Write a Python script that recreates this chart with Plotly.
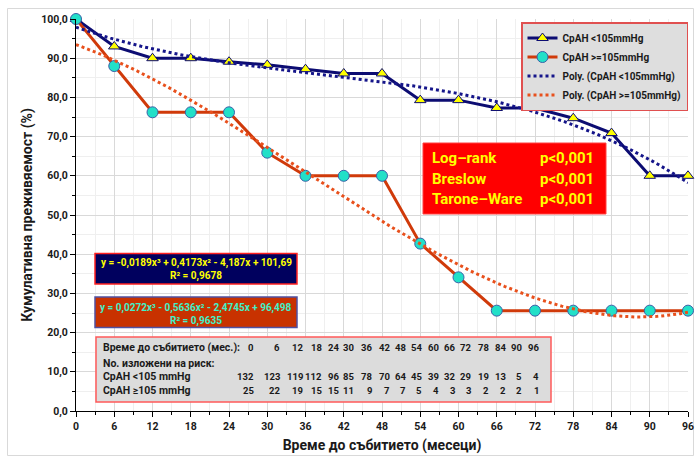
import numpy as np
import plotly.graph_objects as go

# ---------------- data ----------------
months = [0, 6, 12, 18, 24, 30, 36, 42, 48, 54, 60, 66, 72, 78, 84, 90, 96]
surv_low = [100, 93, 90, 90, 89.1, 88.3, 87.2, 86.1, 86.1, 79.3, 79.3, 77.3, 77.3, 74.7, 70.9, 60, 60]
surv_high = [100, 88, 76.2, 76.2, 76.2, 65.9, 60, 60, 60, 42.7, 34.1, 25.6, 25.6, 25.6, 25.6, 25.6, 25.6]
# Excel polynomial trendline coefficients (x = point index 1..17)
poly_low = [-0.0189, 0.4173, -4.187, 101.69]
poly_high = [0.0272, -0.5636, -2.4745, 96.498]
r2_low = "0,9678"
r2_high = "0,9635"
risk_low = [132, 123, 119, 112, 96, 85, 78, 70, 64, 45, 39, 32, 29, 19, 13, 5, 4]
risk_high = [25, 22, 19, 15, 15, 11, 9, 7, 7, 5, 4, 3, 3, 2, 2, 2, 1]
names = ["СрАН <105mmHg", "СрАН >=105mmHg", "Poly. (СрАН <105mmHg)", "Poly. (СрАН >=105mmHg)"]
tests = ["Log–rank", "Breslow", "Tarone–Ware"]
pvals = ["p<0,001", "p<0,001", "p<0,001"]

# ---------------- layout helpers ----------------
W, H = 696, 461
PL, PR, PT, PB = 76, 688, 19, 411          # plot area in page pixels
ML, MR, MT, MB = PL, W - PR, PT, H - PB
PW, PH = PR - PL, PB - PT

def px(x):
    return (x - PL) / PW

def py(y):
    return 1 - (y - PT) / PH

FONT = "Roboto"
NAVY = "#0c0c72"
ORANGE = "#d03a0a"

idx = np.linspace(1, len(months), 161)
trend_x = (idx - 1) * (months[1] - months[0])
trend_low = np.polyval(poly_low, idx)
trend_high = np.polyval(poly_high, idx)

fig = go.Figure()
fig.add_trace(go.Scatter(
    x=months, y=surv_low, mode="lines+markers", name=names[0], cliponaxis=False,
    line=dict(color=NAVY, width=3),
    marker=dict(symbol="triangle-up", size=10, color="#ffff00", line=dict(color=NAVY, width=1))))
fig.add_trace(go.Scatter(
    x=months, y=surv_high, mode="lines+markers", name=names[1], cliponaxis=False,
    line=dict(color=ORANGE, width=3),
    marker=dict(symbol="circle", size=11, color="#22e0c8", line=dict(color="#3a5fa8", width=1))))
fig.add_trace(go.Scatter(
    x=trend_x, y=trend_low, mode="lines", name=names[2], cliponaxis=False,
    line=dict(color="#15158a", width=3, dash="dot")))
fig.add_trace(go.Scatter(
    x=trend_x, y=trend_high, mode="lines", name=names[3], cliponaxis=False,
    line=dict(color="#e8501c", width=3, dash="dot")))

shapes = []
annotations = []

# outer chart border
shapes.append(dict(type="rect", xref="paper", yref="paper", x0=px(7.5), x1=px(693.5), y0=py(455.5), y1=py(8.5),
                   line=dict(color="#d9d9d9", width=1), fillcolor="rgba(0,0,0,0)", layer="below"))

# red statistics box
shapes.append(dict(type="rect", xref="paper", yref="paper", x0=px(423), x1=px(606), y0=py(214), y1=py(143),
                   line=dict(color="#ff4040", width=1), fillcolor="#ff0000"))
for i, (t, p) in enumerate(zip(tests, pvals)):
    yy = [158, 178.5, 199][i]
    annotations.append(dict(xref="paper", yref="paper", x=px(430), y=py(yy), xanchor="left", yanchor="middle",
                            text="<b>%s</b>" % t, showarrow=False,
                            font=dict(family=FONT, size=15, color="#ffff00")))
    annotations.append(dict(xref="paper", yref="paper", x=px(538), y=py(yy), xanchor="left", yanchor="middle",
                            text="<b>%s</b>" % p, showarrow=False,
                            font=dict(family=FONT, size=15, color="#ffff00")))

# equation boxes
def eq_text(c):
    def f(v):
        return ("%g" % abs(v)).replace(".", ",")
    s = "y = %s%sx³ %s %sx² %s %sx %s %s" % (
        "-" if c[0] < 0 else "", f(c[0]),
        "-" if c[1] < 0 else "+", f(c[1]),
        "-" if c[2] < 0 else "+", f(c[2]),
        "-" if c[3] < 0 else "+", f(c[3]))
    return s

shapes.append(dict(type="rect", xref="paper", yref="paper", x0=px(95), x1=px(297), y0=py(284), y1=py(253.5),
                   line=dict(color="#ff2020", width=1.5), fillcolor="#00005e"))
shapes.append(dict(type="rect", xref="paper", yref="paper", x0=px(95), x1=px(297), y0=py(327.5), y1=py(297),
                   line=dict(color="#5050a0", width=1.5), fillcolor="#c83200"))
EQF = 10
annotations.append(dict(xref="paper", yref="paper", x=px(196), y=py(263), xanchor="center", yanchor="middle",
                        text="<b>%s</b>" % eq_text(poly_low), showarrow=False,
                        font=dict(family=FONT, size=EQF, color="#ffff00")))
annotations.append(dict(xref="paper", yref="paper", x=px(196), y=py(276), xanchor="center", yanchor="middle",
                        text="<b>R² = %s</b>" % r2_low, showarrow=False,
                        font=dict(family=FONT, size=EQF, color="#ffff00")))
annotations.append(dict(xref="paper", yref="paper", x=px(196), y=py(307.5), xanchor="center", yanchor="middle",
                        text="<b>%s</b>" % eq_text(poly_high), showarrow=False,
                        font=dict(family=FONT, size=EQF, color="#40f0c8")))
annotations.append(dict(xref="paper", yref="paper", x=px(196), y=py(320.5), xanchor="center", yanchor="middle",
                        text="<b>R² = %s</b>" % r2_high, showarrow=False,
                        font=dict(family=FONT, size=EQF, color="#40f0c8")))

# number-at-risk table
shapes.append(dict(type="rect", xref="paper", yref="paper", x0=px(96), x1=px(551), y0=py(402), y1=py(337),
                   line=dict(color="#ff5a5a", width=1.5), fillcolor="#dcdcdc"))
row_y = [347.5, 363, 376.5, 390]
row_labels = ["Време до събитието (мес.):", "No. изложени на риск:", "СрАН <105 mmHg", "СрАН ≥105 mmHg"]
for lab, yy in zip(row_labels, row_y):
    annotations.append(dict(xref="paper", yref="paper", x=px(101), y=py(yy), xanchor="left", yanchor="middle",
                            text="<b>%s</b>" % lab, showarrow=False,
                            font=dict(family=FONT, size=10.5, color="#1a1a1a")))
col_right = [256, 282, 305, 324, 341, 356, 373.5, 392, 408, 423.5, 441, 457, 472.5, 491, 507.5, 524, 541]
for cx, m, a, b in zip(col_right, months, risk_low, risk_high):
    for val, yy in ((m, row_y[0]), (a, row_y[2]), (b, row_y[3])):
        annotations.append(dict(xref="paper", yref="paper", x=px(cx), y=py(yy), xanchor="right", yanchor="middle",
                                text="<b>%d</b>" % val, showarrow=False,
                                font=dict(family=FONT, size=9.5, color="#1a1a1a")))

fig.update_layout(
    width=W, height=H,
    margin=dict(l=ML, r=MR, t=MT, b=MB, autoexpand=False),
    paper_bgcolor="white", plot_bgcolor="white",
    separators=",.",
    font=dict(family=FONT, color="#1a1a1a"),
    shapes=shapes, annotations=annotations,
    showlegend=True,
    legend=dict(x=px(688), y=py(22), xanchor="right", yanchor="top",
                bgcolor="#dedede", bordercolor="#e05050", borderwidth=1.5,
                font=dict(family=FONT, size=10, color="#1a1a1a", weight="bold"),
                itemwidth=30, tracegroupgap=0),
    xaxis=dict(range=[0, 96], tickmode="array", tickvals=months, ticktext=[str(m) for m in months],
               showline=True, linecolor="black", linewidth=1, ticks="outside", ticklen=5, tickcolor="black",
               showgrid=True, gridcolor="#d9d9d9", gridwidth=1, zeroline=False,
               minor=dict(dtick=3, tick0=0, ticks="outside", ticklen=3, tickcolor="black",
                          showgrid=True, gridcolor="#efefef"),
               tickfont=dict(family=FONT, size=10.5, weight="bold"),
               title=dict(text="<b>Време до събитието (месеци)</b>", font=dict(family=FONT, size=14), standoff=8)),
    yaxis=dict(range=[0, 100], dtick=10, tick0=0, tickformat=".1f",
               showline=True, linecolor="black", linewidth=1, ticks="outside", ticklen=5, tickcolor="black",
               showgrid=True, gridcolor="#d9d9d9", gridwidth=1, zeroline=False,
               minor=dict(dtick=5, tick0=0, ticks="outside", ticklen=3, tickcolor="black",
                          showgrid=True, gridcolor="#efefef"),
               tickfont=dict(family=FONT, size=10.5, weight="bold"),
               title=dict(text="<b>Кумулативна преживяемост (%)</b>", font=dict(family=FONT, size=14), standoff=5)),
)

# remove the default 8px page margin so the 696x461 figure fills the window exactly
fig.write_html("out.html", config={"displayModeBar": False},
               post_script="document.body.style.margin='0';document.body.style.overflow='hidden';")
